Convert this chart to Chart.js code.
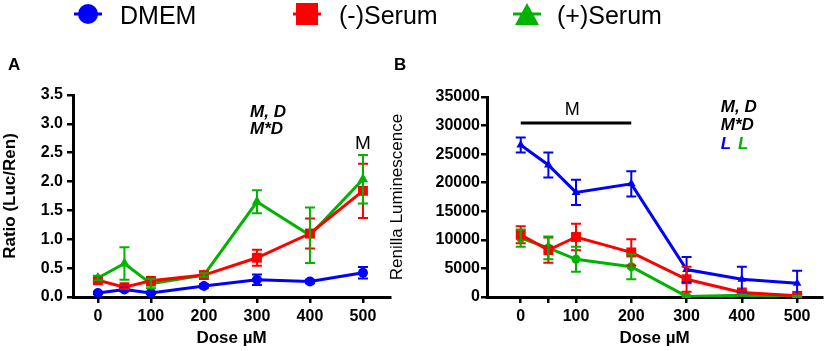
<!DOCTYPE html>
<html lang="en">
<head>
    <meta charset="UTF-8">
    <title>Luc/Ren ratio and Renilla luminescence vs dose</title>
    <script src="https://cdn.jsdelivr.net/npm/chart.js"></script>
    <style>
        body {
            margin: 0;
            background: #fff;
            font-family: "Liberation Sans", Arial, sans-serif;
        }
        #wrap {
            position: relative;
            width: 829px;
            height: 351px;
            overflow: hidden;
        }
        canvas {
            position: absolute;
            top: 0;
        }
        #chartA { left: 0; }
        #chartB { left: 385px; }
        .legend-item {
            position: absolute;
            top: 0;
            height: 30px;
            font-size: 25px;
            line-height: 30px;
            color: #000;
        }
        .mk {
            position: absolute;
            top: 15px;
        }
        .panel-label {
            position: absolute;
            top: 55px;
            font-weight: bold;
            font-size: 17px;
        }
    </style>
</head>
<body>
<div id="wrap">
    <canvas id="chartA" width="420" height="351"></canvas>
    <canvas id="chartB" width="444" height="351"></canvas>
    <div class="panel-label" style="left:8px">A</div>
    <div class="panel-label" style="left:394px">B</div>
    <div id="legend"></div>
</div>

<script>
    // doses (µM)
    const doses = [0, 50, 100, 200, 300, 400, 500];
    const seriesNames = ['DMEM', '(-)Serum', '(+)Serum'];
    const seriesColors = ['#0000ff', '#ff0000', '#00b300'];

    // Panel A: Ratio (Luc/Ren), mean and SEM
    const ratioDMEM = [0.07, 0.13, 0.07, 0.19, 0.30, 0.27, 0.42];
    const ratioDMEMErr = [0.02, 0.03, 0.02, 0.03, 0.09, 0.03, 0.10];
    const ratioMinus = [0.29, 0.17, 0.28, 0.38, 0.68, 1.10, 1.84];
    const ratioMinusErr = [0.03, 0.03, 0.03, 0.03, 0.14, 0.26, 0.47];
    const ratioPlus = [0.33, 0.58, 0.23, 0.38, 1.65, 1.07, 2.04];
    const ratioPlusErr = [0.04, 0.28, 0.08, 0.03, 0.20, 0.48, 0.42];

    // Panel B: Renilla luminescence, mean and SEM
    const renDMEM = [26600, 23100, 18300, 19800, 4800, 3100, 2400];
    const renDMEMErr = [1300, 2200, 2200, 2200, 2200, 2200, 2200];
    const renMinus = [10900, 8200, 10500, 7800, 3100, 800, 200];
    const renMinusErr = [1500, 2200, 2300, 2300, 2200, 300, 300];
    const renPlus = [10300, 8600, 6600, 5300, 100, 300, 100];
    const renPlusErr = [1500, 2000, 2200, 2200, 100, 100, 100];

    // tick labels
    const xTicksA = [0, 100, 200, 300, 400, 500];
    const xTicksB = [0, 50, 100, 200, 300, 400, 500];
    const xTickLabelsB = ['0', '', '100', '200', '300', '400', '500'];
    const yTicksA = ['0.0', '0.5', '1.0', '1.5', '2.0', '2.5', '3.0', '3.5'];
    const yTicksB = ['0', '5000', '10000', '15000', '20000', '25000', '30000', '35000'];

    const FONT = '"Liberation Sans", Arial, sans-serif';

    // legend (html)
    const legendPos = [{ mk: 88, tx: 120 }, { mk: 307, tx: 339 }, { mk: 527, tx: 557 }];
    const legendShapes = ['circle', 'square', 'triangle'];
    const legendDiv = document.getElementById('legend');
    seriesNames.forEach((name, i) => {
        const c = seriesColors[i];
        const p = legendPos[i];
        let shape;
        if (legendShapes[i] === 'circle') {
            shape = `<circle cx="14" cy="11" r="10" fill="${c}"/>`;
        } else if (legendShapes[i] === 'square') {
            shape = `<rect x="3" y="0" width="22" height="22" fill="${c}"/>`;
        } else {
            shape = `<polygon points="14,0 26,22 2,22" fill="${c}"/>`;
        }
        const svg = `<svg class="mk" style="left:${p.mk - 14}px;top:3px" width="28" height="22">
            <line x1="0" y1="11" x2="28" y2="11" stroke="${c}" stroke-width="3"/>${shape}</svg>`;
        legendDiv.insertAdjacentHTML('beforeend', svg +
            `<div class="legend-item" style="left:${p.tx}px">${name}</div>`);
    });

    function pts(values) {
        return values.map((v, i) => ({ x: doses[i], y: v }));
    }

    // error bars drawn through the chart's own scales
    const errorBars = {
        id: 'errorBars',
        afterDatasetsDraw(chart) {
            const ctx = chart.ctx;
            const xs = chart.scales.x, ys = chart.scales.y;
            chart.data.datasets.forEach((ds) => {
                if (!ds.err) return;
                ctx.save();
                ctx.strokeStyle = ds.borderColor;
                ctx.lineWidth = 2;
                ds.data.forEach((p, i) => {
                    const e = ds.err[i];
                    const px = xs.getPixelForValue(p.x);
                    const top = ys.getPixelForValue(p.y + e);
                    const bot = ys.getPixelForValue(Math.max(0, p.y - e));
                    ctx.beginPath();
                    ctx.moveTo(px, top); ctx.lineTo(px, bot);
                    ctx.moveTo(px - 5, top); ctx.lineTo(px + 5, top);
                    ctx.moveTo(px - 5, bot); ctx.lineTo(px + 5, bot);
                    ctx.stroke();
                });
                ctx.restore();
            });
        }
    };

    // text annotations in data coordinates
    const notes = {
        id: 'notes',
        afterDraw(chart) {
            const list = chart.options.plugins.notes.items || [];
            const ctx = chart.ctx;
            const xs = chart.scales.x, ys = chart.scales.y;
            ctx.save();
            list.forEach((n) => {
                const px = xs.getPixelForValue(n.x);
                const py = ys.getPixelForValue(n.y);
                if (n.line) {
                    const px2 = xs.getPixelForValue(n.x2);
                    ctx.strokeStyle = '#000';
                    ctx.lineWidth = 3;
                    ctx.beginPath();
                    ctx.moveTo(px, py); ctx.lineTo(px2, py);
                    ctx.stroke();
                    return;
                }
                ctx.font = n.font;
                ctx.fillStyle = n.color || '#000';
                ctx.textAlign = n.align || 'left';
                ctx.textBaseline = 'middle';
                ctx.fillText(n.text, px, py);
            });
            ctx.restore();
        }
    };

    function dataset(label, values, err, color, style, radius) {
        return {
            label: label,
            data: pts(values),
            err: err,
            borderColor: color,
            backgroundColor: color,
            borderWidth: 3,
            pointStyle: style,
            pointRadius: radius,
            pointBorderWidth: 0,
            pointBackgroundColor: color,
            tension: 0
        };
    }

    function axisOpts(extra) {
        return Object.assign({
            border: { display: true, color: '#000', width: 3 },
            grid: { display: true, drawOnChartArea: false, drawTicks: true, tickLength: 6, color: '#000', lineWidth: 2.5 }
        }, extra);
    }

    function makeChart(id, cfg) {
        return new Chart(document.getElementById(id), {
            type: 'line',
            data: { datasets: cfg.datasets },
            options: {
                responsive: false,
                animation: false,
                layout: { padding: cfg.padding },
                plugins: {
                    legend: { display: false },
                    tooltip: { enabled: false },
                    notes: { items: cfg.notes }
                },
                scales: {
                    x: axisOpts({
                        type: 'linear',
                        min: cfg.xMin,
                        max: cfg.xMax,
                        afterBuildTicks: (s) => { s.ticks = cfg.xTicks.map(v => ({ value: v })); },
                        afterFit: (s) => { s.height = 54; },
                        ticks: {
                            color: '#000',
                            padding: 4,
                            font: { family: FONT, size: 16, weight: 'bold' },
                            callback: (v, i) => cfg.xLabels[i]
                        },
                        title: {
                            display: true,
                            text: 'Dose µM',
                            color: '#000',
                            padding: { top: 0, bottom: 2 },
                            font: { family: FONT, size: 17, weight: 'bold' }
                        }
                    }),
                    y: axisOpts({
                        type: 'linear',
                        min: 0,
                        max: cfg.yMax,
                        afterBuildTicks: (s) => { s.ticks = cfg.yLabels.map((t, i) => ({ value: i * cfg.yStep })); },
                        afterFit: (s) => { s.width = cfg.yWidth; },
                        ticks: {
                            color: '#000',
                            padding: cfg.yPad,
                            font: { family: FONT, size: 16, weight: 'bold' },
                            callback: (v, i) => cfg.yLabels[i]
                        },
                        title: {
                            display: true,
                            text: cfg.yTitle,
                            color: '#000',
                            padding: { top: cfg.yTitlePad, bottom: 0 },
                            font: cfg.yTitleFont
                        }
                    })
                }
            },
            plugins: [errorBars, notes]
        });
    }

    makeChart('chartA', {
        datasets: [
            dataset('DMEM', ratioDMEM, ratioDMEMErr, seriesColors[0], 'circle', 5),
            dataset('(-)Serum', ratioMinus, ratioMinusErr, seriesColors[1], 'rect', 7),
            dataset('(+)Serum', ratioPlus, ratioPlusErr, seriesColors[2], 'triangle', 6)
        ],
        padding: { top: 95, right: 30, left: 0, bottom: 0 },
        xMin: -47, xMax: 551,
        xTicks: xTicksA,
        xLabels: xTicksA.map(String),
        yMax: 3.5, yStep: 0.5,
        yLabels: yTicksA,
        yWidth: 73, yPad: 4,
        yTitle: 'Ratio (Luc/Ren)',
        yTitlePad: 0,
        yTitleFont: { family: FONT, size: 17, weight: 'bold' },
        notes: [
            { x: 287, y: 3.2, text: 'M, D', font: 'italic bold 17px ' + FONT },
            { x: 287, y: 2.9, text: 'M*D', font: 'italic bold 17px ' + FONT },
            { x: 500, y: 2.66, text: 'M', align: 'center', font: '19px ' + FONT }
        ]
    });

    makeChart('chartB', {
        datasets: [
            dataset('DMEM', renDMEM, renDMEMErr, seriesColors[0], 'triangle', 5),
            dataset('(-)Serum', renMinus, renMinusErr, seriesColors[1], 'rect', 7),
            dataset('(+)Serum', renPlus, renPlusErr, seriesColors[2], 'circle', 4.5)
        ],
        padding: { top: 97, right: 4, left: 0, bottom: 0 },
        xMin: -61, xMax: 545,
        xTicks: xTicksB,
        xLabels: xTickLabelsB,
        yMax: 35000, yStep: 5000,
        yLabels: yTicksB,
        yWidth: 102, yPad: 1,
        yTitle: 'Renilla Luminescence',
        yTitlePad: 2,
        yTitleFont: { family: FONT, size: 17, weight: 'normal' },
        notes: [
            { x: 93, y: 32700, text: 'M', align: 'center', font: '18px ' + FONT },
            { x: 0, x2: 200, y: 30450, line: true },
            { x: 362, y: 33250, text: 'M, D', font: 'italic bold 17px ' + FONT },
            { x: 362, y: 30100, text: 'M*D', font: 'italic bold 17px ' + FONT },
            { x: 362, y: 26800, text: 'L', color: seriesColors[0], font: 'italic bold 17px ' + FONT },
            { x: 393, y: 26800, text: 'L', color: seriesColors[2], font: 'italic bold 17px ' + FONT }
        ]
    });
</script>
</body>
</html>
